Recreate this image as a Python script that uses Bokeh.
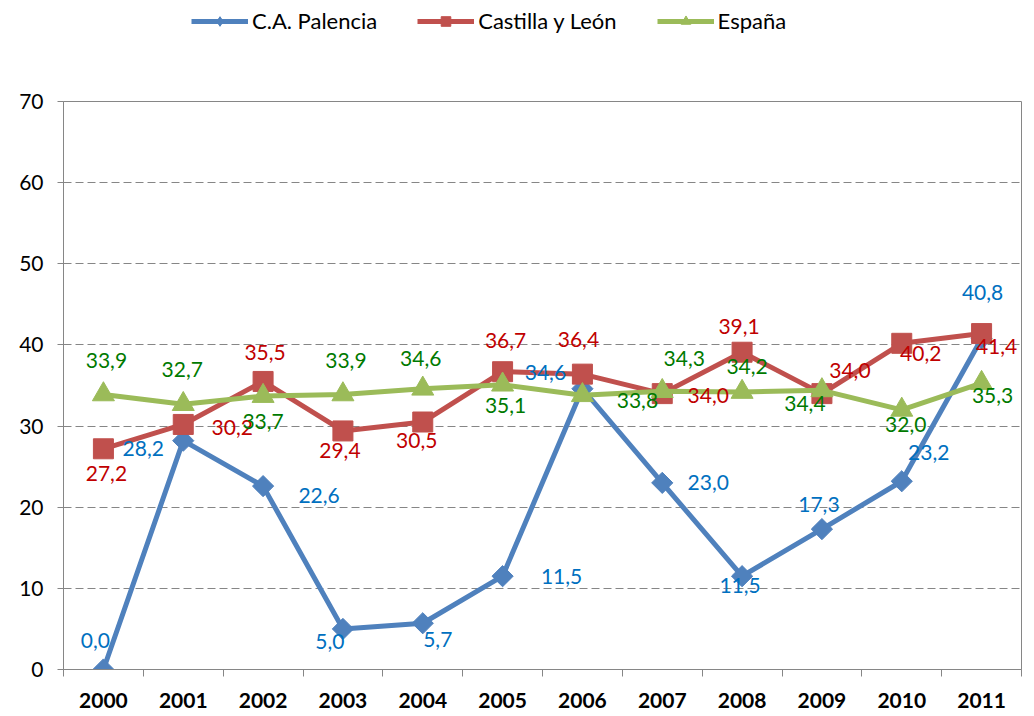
import math
from bokeh.plotting import figure
from bokeh.layouts import column
from bokeh.models import (Range1d, LinearAxis, FixedTicker, Legend, LegendItem, ColumnDataSource)
from bokeh.core.properties import value
from bokeh.embed import file_html
from bokeh.resources import INLINE

years = ["2000", "2001", "2002", "2003", "2004", "2005", "2006", "2007", "2008", "2009", "2010", "2011"]
palencia = [0.0, 28.2, 22.6, 5.0, 5.7, 11.5, 34.6, 23.0, 11.5, 17.3, 23.2, 40.8]
castilla = [27.2, 30.2, 35.5, 29.4, 30.5, 36.7, 36.4, 34.0, 39.1, 34.0, 40.2, 41.4]
espana = [33.9, 32.7, 33.7, 33.9, 34.6, 35.1, 33.8, 34.3, 34.2, 34.4, 32.0, 35.3]
series_names = ["C.A. Palencia", "Castilla y León", "España"]
y_ticks = [0, 10, 20, 30, 40, 50, 60, 70]

# label pixel offsets (dx, dy; dy positive = down)
pal_dx = [-8, -40, 56, -13, 15, 59, -37, 46, -2, -3, 27, 1]
pal_dy = [-29, 8, 9, 13, 16, 0, -16, 0, 9, -25, -29, -46]
cas_dx = [3, 49, 2, -3, -6, 3, -4, 46, -3, 28, 19, 15]
cas_dy = [25, 3, -29, 20, 18, -31, -35, 2, -26, -23, 10, 13]
esp_dx = [3, -1, 0, 3, -2, 3, 55, 22, 5, -17, 4, 11]
esp_dy = [-34, -35, 25, -34, -30, 21, 5, -33, -25, 13, 15, 12]

FONT = "Lato"
GRAY = "#868686"
W = 1030
LEG_H = 45

n = len(years)
xpos = [i + 0.5 for i in range(n)]  # category centres on a 0..n scale

p = figure(width=W, height=712 - LEG_H, x_range=Range1d(0, n), y_range=Range1d(0, 70),
           output_backend="svg", toolbar_location=None, x_axis_location=None,
           min_border_left=63, min_border_right=9, min_border_top=101 - LEG_H, min_border_bottom=43)

p.outline_line_color = GRAY
p.outline_line_width = 1
p.xgrid.grid_line_color = None
p.ygrid.ticker = FixedTicker(ticks=y_ticks)
p.ygrid.grid_line_color = GRAY
p.ygrid.grid_line_dash = "8 4"
p.ygrid.grid_line_width = 1

ya = p.yaxis[0]
ya.ticker = FixedTicker(ticks=y_ticks)
ya.axis_line_color = GRAY
ya.major_tick_line_color = GRAY
ya.major_tick_out = 6
ya.major_tick_in = 0
ya.minor_tick_line_color = None
ya.major_label_text_font = FONT
ya.major_label_text_font_size = "21px"
ya.major_label_text_color = "#000000"
ya.major_label_standoff = 14

tick_axis = LinearAxis(ticker=FixedTicker(ticks=list(range(n + 1))),
                       major_label_overrides={i: "" for i in range(n + 1)})
tick_axis.axis_line_color = GRAY
tick_axis.major_tick_line_color = GRAY
tick_axis.major_tick_out = 7
tick_axis.major_tick_in = 0
tick_axis.minor_tick_line_color = None
tick_axis.major_label_text_font_size = "1px"
tick_axis.major_label_standoff = 0
p.add_layout(tick_axis, "below")

cat_axis = LinearAxis(ticker=FixedTicker(ticks=xpos),
                      major_label_overrides={x: y for x, y in zip(xpos, years)})
cat_axis.axis_line_color = None
cat_axis.major_tick_line_color = None
cat_axis.minor_tick_line_color = None
cat_axis.major_label_text_font = FONT
cat_axis.major_label_text_font_size = "21px"
cat_axis.major_label_text_font_style = "bold"
cat_axis.major_label_text_color = "#000000"
cat_axis.major_label_standoff = 10
p.add_layout(cat_axis, "below")

specs = [
    (palencia, "#4F81BD", "#0070C0", "square", 15, math.pi / 4, pal_dx, pal_dy, "diamond", 20),
    (castilla, "#C0504D", "#C00000", "square", 20, 0, cas_dx, cas_dy, "square", 15),
    (espana, "#9BBB59", "#007A00", "triangle", 22, 0, esp_dx, esp_dy, "triangle", 17),
]

for vals, col, lcol, marker, size, ang, dx, dy, lm, ls in specs:
    src = ColumnDataSource(dict(x=xpos, y=vals))
    p.line("x", "y", source=src, line_color=col, line_width=5, line_join="round")
    p.scatter("x", "y", source=src, marker=marker, size=size, angle=ang,
              fill_color=col, line_color=col)

for vals, col, lcol, marker, size, ang, dx, dy, lm, ls in specs:
    src = ColumnDataSource(dict(x=xpos, y=vals,
                                lab=[f"{v:.1f}".replace(".", ",") for v in vals],
                                dx=dx, dy=dy))
    p.text("x", "y", text="lab", source=src, x_offset="dx", y_offset="dy",
           text_font=value(FONT), text_font_size="21px", text_color=lcol,
           text_align="center", text_baseline="middle")

# legend strip above the chart (its series sit outside its visible y range)
lf = figure(width=W, height=LEG_H, x_range=Range1d(0, n), y_range=Range1d(-200, -100),
            output_backend="svg", toolbar_location=None,
            x_axis_location=None, y_axis_location=None,
            min_border_left=0, min_border_right=0, min_border_top=0, min_border_bottom=0)
lf.grid.visible = False
lf.outline_line_color = None

items = []
for name, (vals, col, lcol, marker, size, ang, dx, dy, lm, ls) in zip(series_names, specs):
    src = ColumnDataSource(dict(x=xpos, y=vals))
    lr = lf.line("x", "y", source=src, line_color=col, line_width=5)
    sr = lf.scatter("x", "y", source=src, marker=lm, size=ls,
                    fill_color=col, line_color=col)
    items.append(LegendItem(label=name, renderers=[lr, sr]))

legend = Legend(items=items, orientation="horizontal", location=(128, LEG_H - 34))
legend.border_line_color = None
legend.background_fill_alpha = 0
legend.padding = 0
legend.margin = 0
legend.spacing = 40
legend.glyph_width = 57
legend.glyph_height = 24
legend.label_standoff = 4
legend.label_text_font = FONT
legend.label_text_font_size = "22px"
legend.label_text_color = "#000000"
lf.add_layout(legend, "center")

layout = column(lf, p, spacing=0)
open("out.html", "w").write(file_html(layout, INLINE))
